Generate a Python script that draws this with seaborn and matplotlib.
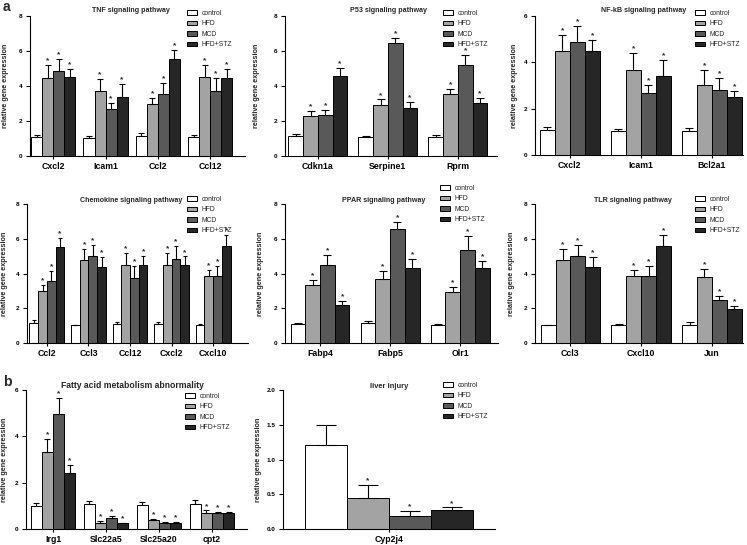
import numpy as np
import pandas as pd
import matplotlib
matplotlib.use("Agg")
import matplotlib.pyplot as plt
import seaborn as sns

# ---------------- data ----------------
GROUPS = ["control", "HFD", "MCD", "HFD+STZ"]
COLORS = ["#ffffff", "#a3a3a3", "#595959", "#262626"]

tnf_genes = ["Cxcl2", "Icam1", "Ccl2", "Ccl12"]
tnf_control = [1.07, 1.05, 1.14, 1.07]
tnf_hfd = [4.47, 3.69, 3.00, 4.49]
tnf_mcd = [4.86, 2.68, 3.55, 3.73]
tnf_stz = [4.50, 3.39, 5.55, 4.48]
tnf_control_err = [0.12, 0.07, 0.20, 0.14]
tnf_hfd_err = [0.72, 0.70, 0.32, 0.71]
tnf_mcd_err = [0.71, 0.36, 0.61, 0.72]
tnf_stz_err = [0.48, 0.72, 0.52, 0.52]

p53_genes = ["Cdkn1a", "Serpine1", "Rprm"]
p53_control = [1.13, 1.07, 1.11]
p53_hfd = [2.27, 2.89, 3.52]
p53_mcd = [2.32, 6.47, 5.19]
p53_stz = [4.55, 2.74, 3.02]
p53_control_err = [0.15, 0.08, 0.11]
p53_hfd_err = [0.29, 0.34, 0.33]
p53_mcd_err = [0.29, 0.25, 0.57]
p53_stz_err = [0.48, 0.34, 0.27]

nfkb_genes = ["Cxcl2", "Icam1", "Bcl2a1"]
nfkb_control = [1.07, 1.05, 1.02]
nfkb_hfd = [4.47, 3.69, 3.03]
nfkb_mcd = [4.86, 2.68, 2.79]
nfkb_stz = [4.50, 3.39, 2.50]
nfkb_control_err = [0.12, 0.07, 0.14]
nfkb_hfd_err = [0.72, 0.70, 0.64]
nfkb_mcd_err = [0.71, 0.36, 0.54]
nfkb_stz_err = [0.48, 0.72, 0.28]

chemo_genes = ["Ccl2", "Ccl3", "Ccl12", "Cxcl2", "Cxcl10"]
chemo_control = [1.14, 1.03, 1.07, 1.07, 1.06]
chemo_hfd = [3.00, 4.79, 4.49, 4.47, 3.88]
chemo_mcd = [3.55, 4.98, 3.73, 4.86, 3.88]
chemo_stz = [5.55, 4.36, 4.48, 4.50, 5.57]
chemo_control_err = [0.20, 0.03, 0.14, 0.12, 0.06]
chemo_hfd_err = [0.32, 0.64, 0.71, 0.72, 0.33]
chemo_mcd_err = [0.61, 0.67, 0.72, 0.71, 0.58]
chemo_stz_err = [0.52, 0.59, 0.52, 0.48, 0.64]

ppar_genes = ["Fabp4", "Fabp5", "Olr1"]
ppar_control = [1.10, 1.15, 1.01]
ppar_hfd = [3.33, 3.70, 2.94]
ppar_mcd = [4.47, 6.55, 5.37]
ppar_stz = [2.17, 4.32, 4.32]
ppar_control_err = [0.07, 0.13, 0.08]
ppar_hfd_err = [0.32, 0.44, 0.27]
ppar_mcd_err = [0.61, 0.44, 0.80]
ppar_stz_err = [0.27, 0.51, 0.42]

tlr_genes = ["Ccl3", "Cxcl10", "Jun"]
tlr_control = [1.03, 1.06, 1.06]
tlr_hfd = [4.79, 3.88, 3.82]
tlr_mcd = [4.98, 3.88, 2.46]
tlr_stz = [4.36, 5.57, 1.96]
tlr_control_err = [0.03, 0.06, 0.13]
tlr_hfd_err = [0.64, 0.33, 0.44]
tlr_mcd_err = [0.67, 0.58, 0.25]
tlr_stz_err = [0.59, 0.64, 0.15]

fa_genes = ["Irg1", "Slc22a5", "Slc25a20", "cpt2"]
fa_control = [1.00, 1.07, 1.05, 1.10]
fa_hfd = [3.33, 0.27, 0.40, 0.70]
fa_mcd = [4.96, 0.47, 0.28, 0.68]
fa_stz = [2.43, 0.24, 0.27, 0.67]
fa_control_err = [0.13, 0.14, 0.12, 0.17]
fa_hfd_err = [0.57, 0.06, 0.03, 0.10]
fa_mcd_err = [0.68, 0.10, 0.03, 0.07]
fa_stz_err = [0.33, 0.03, 0.04, 0.06]

liver_genes = ["Cyp2j4"]
liver_control = [1.21]
liver_hfd = [0.45]
liver_mcd = [0.19]
liver_stz = [0.28]
liver_control_err = [0.28]
liver_hfd_err = [0.18]
liver_mcd_err = [0.07]
liver_stz_err = [0.03]

# ---------------- style ----------------
sns.set_theme(style="ticks")
plt.rcParams["font.family"] = ["Liberation Sans", "DejaVu Sans"]
plt.rcParams.update({
    "axes.linewidth": 0.8,
    "axes.edgecolor": "black",
    "xtick.color": "black",
    "ytick.color": "black",
    "xtick.major.size": 2,
    "ytick.major.size": 3,
    "xtick.major.width": 0.8,
    "ytick.major.width": 0.8,
    "xtick.major.pad": 2.5,
    "ytick.major.pad": 2.5,
})

W, H = 747, 545
fig = plt.figure(figsize=(W / 100, H / 100), dpi=100)
fig.patch.set_facecolor("white")
PALETTE = dict(zip(GROUPS, COLORS))


def px_rect(l, t, r, b):
    return [l / W, 1 - b / H, (r - l) / W, (b - t) / H]


def panel(rect, genes, means, errs, ylim, yticks, xlim, title, title_xy,
          title_fs, leg_xy, ylab_x, capsize, width):
    ax = fig.add_axes(px_rect(*rect))
    rows = []
    for g, vals in zip(GROUPS, means):
        for gene, v in zip(genes, vals):
            rows.append({"gene": gene, "group": g, "value": v})
    df = pd.DataFrame(rows)
    sns.barplot(data=df, x="gene", y="value", hue="group", order=genes,
                hue_order=GROUPS, palette=PALETTE, width=width, gap=0,
                errorbar=None, edgecolor="black", linewidth=0.7,
                legend=False, ax=ax)
    for i, g in enumerate(GROUPS):
        cont = ax.containers[i]
        xs = [p.get_x() + p.get_width() / 2 for p in cont.patches]
        hs = [p.get_height() for p in cont.patches]
        e = errs[i]
        ax.errorbar(xs, hs, yerr=[np.zeros(len(hs)), e], fmt="none",
                    ecolor="black", elinewidth=0.8, capsize=capsize,
                    capthick=0.8, zorder=1)
        if g != "control":
            for x, h, ee in zip(xs, hs, e):
                ax.annotate("*", (x, h + ee), xytext=(0, 0.5),
                            textcoords="offset points", ha="center",
                            va="bottom", fontsize=6, fontweight="bold")
    ax.set_ylim(*ylim)
    ax.set_yticks(yticks)
    ax.set_xlim(*xlim)
    ax.set_xlabel("")
    ax.set_ylabel("relative gene expression", fontsize=5.2, fontweight="bold")
    ax.yaxis.set_label_coords(ylab_x / W, 1 - ((rect[1] + rect[3]) / 2) / H,
                              transform=fig.transFigure)
    for lab in ax.get_yticklabels():
        lab.set_fontsize(4.6)
        lab.set_fontweight("bold")
    for lab in ax.get_xticklabels():
        lab.set_fontsize(6.3)
        lab.set_fontweight("bold")
    sns.despine(ax=ax)
    ax.set_facecolor("none")
    fig.text(title_xy[0] / W, 1 - title_xy[1] / H, title, ha="center",
             va="center", fontsize=title_fs, fontweight="bold")
    handles = [ax.containers[i].patches[0] for i in range(len(GROUPS))]
    ax.legend(handles, GROUPS, loc="upper left",
              bbox_to_anchor=(leg_xy[0] / W, 1 - leg_xy[1] / H),
              bbox_transform=fig.transFigure, frameon=False, fontsize=4.9,
              handlelength=1.5, handleheight=0.65, handletextpad=0.6,
              labelspacing=0.5, borderpad=0, borderaxespad=0)
    return ax


panel((30, 16, 245, 156), tnf_genes,
      [tnf_control, tnf_hfd, tnf_mcd, tnf_stz],
      [tnf_control_err, tnf_hfd_err, tnf_mcd_err, tnf_stz_err],
      (0, 8), [0, 2, 4, 6, 8], (-0.44, 3.66), "TNF signaling pathway",
      (131, 11), 5.1, (187, 10), 9.5, 2.0, 0.84)

panel((285, 16, 497, 156), p53_genes,
      [p53_control, p53_hfd, p53_mcd, p53_stz],
      [p53_control_err, p53_hfd_err, p53_mcd_err, p53_stz_err],
      (0, 8), [0, 2, 4, 6, 8], (-0.47, 2.56), "P53 signaling pathway",
      (388, 11), 5.1, (443, 10), 260, 2.6, 0.84)

panel((535, 16, 743, 155), nfkb_genes,
      [nfkb_control, nfkb_hfd, nfkb_mcd, nfkb_stz],
      [nfkb_control_err, nfkb_hfd_err, nfkb_mcd_err, nfkb_stz_err],
      (0, 6), [0, 2, 4, 6], (-0.49, 2.44), "NF-kB signaling pathway",
      (644, 11), 5.1, (695, 10), 518, 2.6, 0.84)

panel((27, 204, 248, 343), chemo_genes,
      [chemo_control, chemo_hfd, chemo_mcd, chemo_stz],
      [chemo_control_err, chemo_hfd_err, chemo_mcd_err, chemo_stz_err],
      (0, 8), [0, 2, 4, 6, 8], (-0.48, 4.84), "Chemokine signaling pathway",
      (131, 200), 5.1, (187, 196), 8.5, 1.6, 0.84)

panel((285, 204, 498, 343), ppar_genes,
      [ppar_control, ppar_hfd, ppar_mcd, ppar_stz],
      [ppar_control_err, ppar_hfd_err, ppar_mcd_err, ppar_stz_err],
      (0, 8), [0, 2, 4, 6, 8], (-0.5, 2.54), "PPAR signaling pathway",
      (384, 200), 5.1, (440, 185), 264, 2.6, 0.84)

panel((535, 204, 743, 343), tlr_genes,
      [tlr_control, tlr_hfd, tlr_mcd, tlr_stz],
      [tlr_control_err, tlr_hfd_err, tlr_mcd_err, tlr_stz_err],
      (0, 8), [0, 2, 4, 6, 8], (-0.5, 2.44), "TLR signaling pathway",
      (633, 200), 5.1, (695, 196), 515, 2.6, 0.84)

panel((26, 390, 247, 529), fa_genes,
      [fa_control, fa_hfd, fa_mcd, fa_stz],
      [fa_control_err, fa_hfd_err, fa_mcd_err, fa_stz_err],
      (0, 6), [0, 2, 4, 6], (-0.51, 3.66),
      "Fatty acid metabolism abnormality",
      (132, 386), 6.2, (185, 393), 8.5, 2.1, 0.84)

panel((283, 390, 495, 529), liver_genes,
      [liver_control, liver_hfd, liver_mcd, liver_stz],
      [liver_control_err, liver_hfd_err, liver_mcd_err, liver_stz_err],
      (0, 2.0), [0, 0.5, 1.0, 1.5, 2.0], (-0.5, 0.5), "liver injury",
      (389, 387), 5.4, (443, 382), 262, 7.2, 0.79)

fig.text(3 / W, 1 - 7 / H, "a", fontsize=10, fontweight="bold",
         ha="left", va="center")
fig.text(3 / W, 1 - 382 / H, "b", fontsize=10, fontweight="bold",
         ha="left", va="center")

fig.savefig("out.png", dpi=100, facecolor="white")
